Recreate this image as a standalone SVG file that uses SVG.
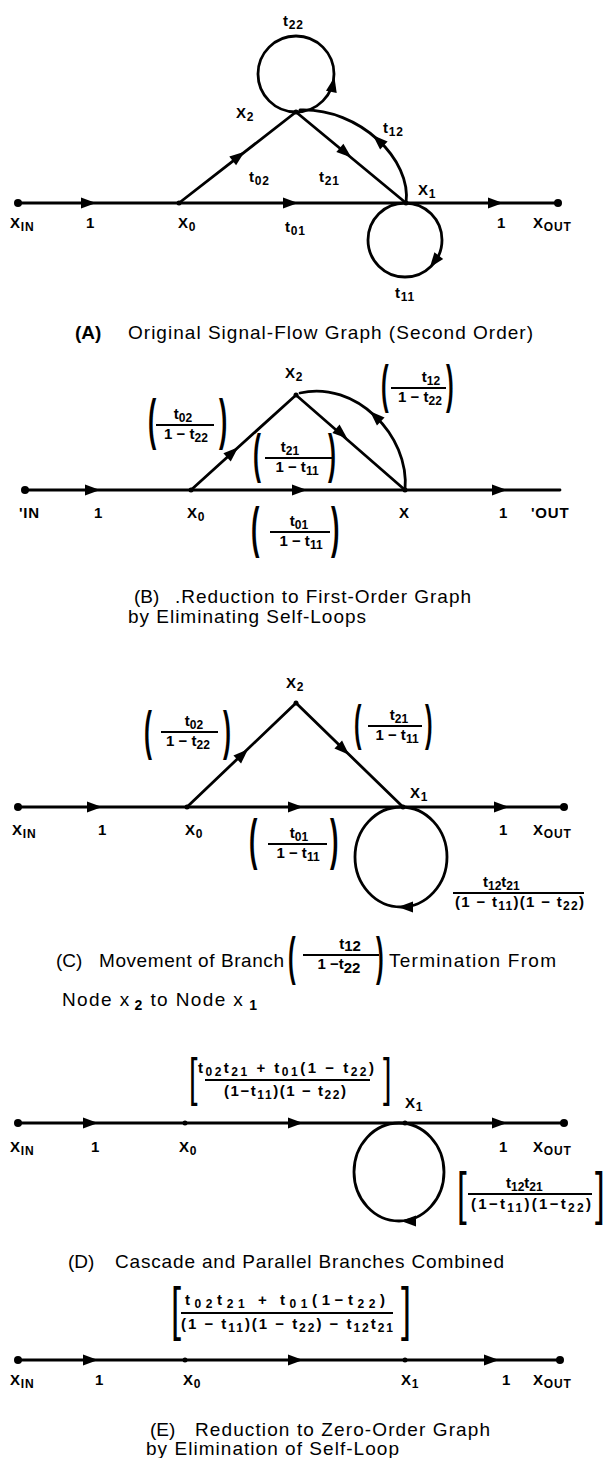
<svg xmlns="http://www.w3.org/2000/svg" width="611" height="1458" viewBox="0 0 611 1458">
<defs>
<style>
.e{fill:none;stroke:#000;stroke-width:2.8;stroke-linecap:round}
.b{stroke:#000;stroke-width:1.8}
.d{fill:#000}
.lb{font-family:"Liberation Sans",Arial,sans-serif;font-weight:bold;font-size:15px;fill:#000;letter-spacing:0.8px}
.s{font-size:12px}
.fr{font-family:"Liberation Sans",Arial,sans-serif;font-weight:bold;font-size:15px;fill:#000}
.fs{font-size:12px}
.cap{font-family:"Liberation Sans",Arial,sans-serif;font-size:19px;fill:#000}
.p{font-family:"Liberation Sans",Arial,sans-serif;fill:#000}
</style>
<path id="ah" d="M-8,-5.5 L7,0 L-8,5.5 Z"/>
</defs>
<rect width="611" height="1458" fill="#fff"/>

<g id="connectors">
<!-- A -->
<path class="e" d="M18,203 H558"/>
<path class="e" d="M179,203 L296,112 L406,203"/>
<path class="e" d="M406,203 C412,160 360,108 300,110"/>
<circle class="e" cx="296" cy="74" r="38"/>
<circle class="e" cx="405" cy="240" r="37"/>
<use href="#ah" transform="translate(89,203)"/>
<use href="#ah" transform="translate(291,203)"/>
<use href="#ah" transform="translate(496,203)"/>
<use href="#ah" transform="translate(239,156) rotate(-38)"/>
<use href="#ah" transform="translate(346,153) rotate(40)"/>
<use href="#ah" transform="translate(378,140) rotate(-137)"/>
<use href="#ah" transform="translate(333,84) rotate(-78)"/>
<use href="#ah" transform="translate(434,262) rotate(127)"/>
<!-- B -->
<path class="e" d="M25,490 H560"/>
<path class="e" d="M191,490 L296,395 L405,490"/>
<path class="e" d="M405,490 C410,435 355,380 300,393"/>
<use href="#ah" transform="translate(93,490)"/>
<use href="#ah" transform="translate(300,490)"/>
<use href="#ah" transform="translate(500,490)"/>
<use href="#ah" transform="translate(233,452) rotate(-42)"/>
<use href="#ah" transform="translate(342,434) rotate(41)"/>
<use href="#ah" transform="translate(375,416) rotate(-136)"/>
<!-- C -->
<path class="e" d="M18,807 H564"/>
<path class="e" d="M187,807 L296,703 L403,807"/>
<ellipse class="e" cx="401" cy="857" rx="46" ry="50"/>
<use href="#ah" transform="translate(95,807)"/>
<use href="#ah" transform="translate(296,807)"/>
<use href="#ah" transform="translate(502,807)"/>
<use href="#ah" transform="translate(243,754) rotate(-44)"/>
<use href="#ah" transform="translate(344,750) rotate(44)"/>
<use href="#ah" transform="translate(405,907) rotate(180)"/>
<!-- D -->
<path class="e" d="M18,1123 H564"/>
<ellipse class="e" cx="399" cy="1172" rx="45" ry="49"/>
<use href="#ah" transform="translate(91,1123)"/>
<use href="#ah" transform="translate(296,1123)"/>
<use href="#ah" transform="translate(500,1123)"/>
<use href="#ah" transform="translate(408,1221) rotate(180)"/>
<!-- E -->
<path class="e" d="M18,1360 H560"/>
<use href="#ah" transform="translate(91,1360)"/>
<use href="#ah" transform="translate(296,1360)"/>
<use href="#ah" transform="translate(492,1360)"/>
</g>

<!-- ===== A ===== -->
<g id="A-xin"><circle class="d" cx="18" cy="203" r="4"/><text class="lb" x="10" y="228">X<tspan class="s" dy="3">IN</tspan></text></g>
<g id="A-x0"><circle class="d" cx="179" cy="203" r="2.5"/><text class="lb" x="178" y="228">X<tspan class="s" dy="3">0</tspan></text></g>
<g id="A-x1"><circle class="d" cx="406" cy="203" r="2.5"/><text class="lb" x="418" y="195">X<tspan class="s" dy="3">1</tspan></text></g>
<g id="A-x2"><circle class="d" cx="296" cy="112" r="2.5"/><text class="lb" x="236" y="118">X<tspan class="s" dy="3">2</tspan></text></g>
<g id="A-xout"><circle class="d" cx="558" cy="203" r="4"/><text class="lb" x="533" y="228">X<tspan class="s" dy="3">OUT</tspan></text></g>
<g id="A-labels">
<text class="lb" x="283" y="26">t<tspan class="s" dy="3">22</tspan></text>
<text class="lb" x="383" y="133">t<tspan class="s" dy="3">12</tspan></text>
<text class="lb" x="249" y="182">t<tspan class="s" dy="3">02</tspan></text>
<text class="lb" x="319" y="182">t<tspan class="s" dy="3">21</tspan></text>
<text class="lb" x="86" y="228">1</text>
<text class="lb" x="285" y="232">t<tspan class="s" dy="3">01</tspan></text>
<text class="lb" x="497" y="228">1</text>
<text class="lb" x="395" y="298">t<tspan class="s" dy="3">11</tspan></text>
</g>
<g id="A-caption">
<text class="cap" x="75" y="339" font-weight="bold">(A)</text>
<text class="cap" x="128" y="339" textLength="405">Original Signal-Flow Graph (Second Order)</text>
</g>

<!-- ===== B ===== -->
<g id="B-xin"><circle class="d" cx="25" cy="490" r="4"/><text class="lb" x="19" y="518">'IN</text></g>
<g id="B-x0"><circle class="d" cx="191" cy="490" r="2.5"/><text class="lb" x="187" y="518">X<tspan class="s" dy="3">0</tspan></text></g>
<g id="B-x"><circle class="d" cx="405" cy="490" r="2.5"/><text class="lb" x="399" y="518">X</text></g>
<g id="B-x2"><circle class="d" cx="296" cy="395" r="2.5"/><text class="lb" x="285" y="378">X<tspan class="s" dy="3">2</tspan></text></g>
<g id="B-xout"><text class="lb" x="531" y="518">'OUT</text></g>
<g id="B-labels">
<text class="lb" x="94" y="518">1</text>
<text class="lb" x="499" y="518">1</text>
<text class="p" font-weight="bold" font-size="51" transform="translate(381,402) scale(0.45,1)">(</text>
<text class="p" font-weight="bold" font-size="51" transform="translate(446,402) scale(0.45,1)">)</text>
<text class="fr" x="431" y="382" text-anchor="middle">t<tspan class="fs" dy="3">12</tspan></text>
<line class="b" x1="391" y1="388" x2="446" y2="388"/>
<text class="fr" x="420" y="402" text-anchor="middle">1 − t<tspan class="fs" dy="3">22</tspan></text>
<text class="p" font-weight="bold" font-size="55" transform="translate(148,438) scale(0.45,1)">(</text>
<text class="p" font-weight="bold" font-size="55" transform="translate(219,438) scale(0.45,1)">)</text>
<text class="fr" x="183" y="419" text-anchor="middle">t<tspan class="fs" dy="3">02</tspan></text>
<line class="b" x1="156" y1="425" x2="214" y2="425"/>
<text class="fr" x="186" y="439" text-anchor="middle">1 − t<tspan class="fs" dy="3">22</tspan></text>
<text class="p" font-weight="bold" font-size="53" transform="translate(253,472) scale(0.45,1)">(</text>
<text class="p" font-weight="bold" font-size="53" transform="translate(328,472) scale(0.45,1)">)</text>
<text class="fr" x="290" y="452" text-anchor="middle">t<tspan class="fs" dy="3">21</tspan></text>
<line class="b" x1="265" y1="458" x2="333" y2="458"/>
<text class="fr" x="297" y="472" text-anchor="middle">1 − t<tspan class="fs" dy="3">11</tspan></text>
<text class="p" font-weight="bold" font-size="56" transform="translate(251,546) scale(0.45,1)">(</text>
<text class="p" font-weight="bold" font-size="56" transform="translate(331,546) scale(0.45,1)">)</text>
<text class="fr" x="299" y="526" text-anchor="middle">t<tspan class="fs" dy="3">01</tspan></text>
<line class="b" x1="270" y1="532" x2="330" y2="532"/>
<text class="fr" x="301" y="546" text-anchor="middle">1 − t<tspan class="fs" dy="3">11</tspan></text>
</g>
<g id="B-caption">
<text class="cap" x="134" y="603">(B)</text>
<text class="cap" x="175" y="603" textLength="296">.Reduction to First-Order Graph</text>
<text class="cap" x="128" y="623" textLength="238">by Eliminating Self-Loops</text>
</g>

<!-- ===== C ===== -->
<g id="C-xin"><circle class="d" cx="18" cy="807" r="4"/><text class="lb" x="12" y="835">X<tspan class="s" dy="3">IN</tspan></text></g>
<g id="C-x0"><circle class="d" cx="187" cy="807" r="2.5"/><text class="lb" x="185" y="835">X<tspan class="s" dy="3">0</tspan></text></g>
<g id="C-x1"><circle class="d" cx="403" cy="807" r="2.5"/><text class="lb" x="410" y="798">X<tspan class="s" dy="3">1</tspan></text></g>
<g id="C-x2"><circle class="d" cx="296" cy="703" r="2.5"/><text class="lb" x="286" y="688">X<tspan class="s" dy="3">2</tspan></text></g>
<g id="C-xout"><circle class="d" cx="564" cy="807" r="4"/><text class="lb" x="533" y="835">X<tspan class="s" dy="3">OUT</tspan></text></g>
<g id="C-labels">
<text class="lb" x="98" y="835">1</text>
<text class="lb" x="499" y="835">1</text>
<text class="p" font-weight="bold" font-size="53" transform="translate(144,749) scale(0.45,1)">(</text>
<text class="p" font-weight="bold" font-size="53" transform="translate(223,749) scale(0.45,1)">)</text>
<text class="fr" x="194" y="726" text-anchor="middle">t<tspan class="fs" dy="3">02</tspan></text>
<line class="b" x1="161" y1="732" x2="218" y2="732"/>
<text class="fr" x="188" y="746" text-anchor="middle">1 − t<tspan class="fs" dy="3">22</tspan></text>
<text class="p" font-weight="bold" font-size="50" transform="translate(354,740) scale(0.45,1)">(</text>
<text class="p" font-weight="bold" font-size="50" transform="translate(425,740) scale(0.45,1)">)</text>
<text class="fr" x="399" y="720" text-anchor="middle">t<tspan class="fs" dy="3">21</tspan></text>
<line class="b" x1="368" y1="726" x2="422" y2="726"/>
<text class="fr" x="397" y="740" text-anchor="middle">1 − t<tspan class="fs" dy="3">11</tspan></text>
<text class="p" font-weight="bold" font-size="56" transform="translate(249,858) scale(0.45,1)">(</text>
<text class="p" font-weight="bold" font-size="56" transform="translate(330,858) scale(0.45,1)">)</text>
<text class="fr" x="299" y="838" text-anchor="middle">t<tspan class="fs" dy="3">01</tspan></text>
<line class="b" x1="268" y1="844" x2="327" y2="844"/>
<text class="fr" x="298" y="858" text-anchor="middle">1 − t<tspan class="fs" dy="3">11</tspan></text>
<text class="fr" x="483" y="887">t<tspan class="fs" dy="3">12</tspan><tspan dy="-3">t</tspan><tspan class="fs" dy="3">21</tspan></text>
<line class="b" x1="453" y1="893" x2="584" y2="893"/>
<text class="fr" x="455" y="907" textLength="129">(1 − t<tspan class="fs" dy="3">11</tspan><tspan dy="-3">)(1 − t</tspan><tspan class="fs" dy="3">22</tspan><tspan dy="-3">)</tspan></text>
</g>
<g id="C-caption">
<text class="cap" x="56" y="967">(C)</text>
<text class="cap" x="99" y="967" textLength="185">Movement of Branch</text>
<text class="p" font-weight="bold" font-size="51" transform="translate(288,974) scale(0.45,1)">(</text>
<text class="p" font-weight="bold" font-size="51" transform="translate(376,974) scale(0.45,1)">)</text>
<text class="fr" x="350" y="949" text-anchor="middle">t<tspan dy="2">12</tspan></text>
<line class="b" x1="303" y1="955" x2="379" y2="955"/>
<text class="fr" x="339" y="969" text-anchor="middle">1 −t<tspan dy="4">22</tspan></text>
<text class="cap" x="389" y="967" textLength="167">Termination From</text>
<text class="cap" x="62" y="1006" textLength="195">Node x<tspan dx="4" dy="4" font-size="14" font-weight="bold">2</tspan><tspan dy="-4"> to Node x</tspan><tspan dx="5" dy="4" font-size="14" font-weight="bold">1</tspan></text>
</g>

<!-- ===== D ===== -->
<g id="D-xin"><circle class="d" cx="18" cy="1123" r="4"/><text class="lb" x="10" y="1152">X<tspan class="s" dy="3">IN</tspan></text></g>
<g id="D-x0"><circle class="d" cx="185" cy="1123" r="2.5"/><text class="lb" x="179" y="1152">X<tspan class="s" dy="3">0</tspan></text></g>
<g id="D-x1"><circle class="d" cx="405" cy="1123" r="2.5"/><text class="lb" x="405" y="1108">X<tspan class="s" dy="3">1</tspan></text></g>
<g id="D-xout"><circle class="d" cx="564" cy="1123" r="4"/><text class="lb" x="533" y="1152">X<tspan class="s" dy="3">OUT</tspan></text></g>
<g id="D-labels">
<text class="lb" x="91" y="1152">1</text>
<text class="lb" x="499" y="1152">1</text>
<text class="p" font-size="51" transform="translate(189,1095) scale(0.6,1)">[</text>
<text class="p" font-size="51" transform="translate(383,1095) scale(0.6,1)">]</text>
<text class="fr" x="198" y="1073" textLength="176">t<tspan class="fs" dy="3">02</tspan><tspan dy="-3">t</tspan><tspan class="fs" dy="3">21</tspan><tspan dy="-3"> + t</tspan><tspan class="fs" dy="3">01</tspan><tspan dy="-3">(1 − t</tspan><tspan class="fs" dy="3">22</tspan><tspan dy="-3">)</tspan></text>
<line class="b" x1="205" y1="1080" x2="370" y2="1080"/>
<text class="fr" x="224" y="1096" textLength="122">(1−t<tspan class="fs" dy="3">11</tspan><tspan dy="-3">)(1 − t</tspan><tspan class="fs" dy="3">22</tspan><tspan dy="-3">)</tspan></text>
<text class="p" font-size="58" transform="translate(457,1213) scale(0.6,1)">[</text>
<text class="p" font-size="58" transform="translate(595,1213) scale(0.6,1)">]</text>
<text class="fr" x="506" y="1188">t<tspan class="fs" dy="3">12</tspan><tspan dy="-3">t</tspan><tspan class="fs" dy="3">21</tspan></text>
<line class="b" x1="468" y1="1194" x2="592" y2="1194"/>
<text class="fr" x="471" y="1209" textLength="120">(1−t<tspan class="fs" dy="3">11</tspan><tspan dy="-3">)(1−t</tspan><tspan class="fs" dy="3">22</tspan><tspan dy="-3">)</tspan></text>
</g>
<g id="D-caption">
<text class="cap" x="68" y="1268">(D)</text>
<text class="cap" x="115" y="1268" textLength="389">Cascade and Parallel Branches Combined</text>
</g>

<!-- ===== E ===== -->
<g id="E-xin"><circle class="d" cx="18" cy="1360" r="4"/><text class="lb" x="10" y="1385">X<tspan class="s" dy="3">IN</tspan></text></g>
<g id="E-x0"><circle class="d" cx="185" cy="1360" r="2.5"/><text class="lb" x="183" y="1385">X<tspan class="s" dy="3">0</tspan></text></g>
<g id="E-x1"><circle class="d" cx="405" cy="1360" r="2.5"/><text class="lb" x="401" y="1385">X<tspan class="s" dy="3">1</tspan></text></g>
<g id="E-xout"><circle class="d" cx="560" cy="1360" r="4"/><text class="lb" x="533" y="1385">X<tspan class="s" dy="3">OUT</tspan></text></g>
<g id="E-labels">
<text class="lb" x="95" y="1385">1</text>
<text class="lb" x="502" y="1385">1</text>
<text class="p" font-size="60" transform="translate(171,1329) scale(0.6,1)">[</text>
<text class="p" font-size="60" transform="translate(401,1329) scale(0.6,1)">]</text>
<text class="fr" x="185" y="1305" textLength="200">t<tspan class="fs" dy="3">02</tspan><tspan dy="-3">t</tspan><tspan class="fs" dy="3">21</tspan><tspan dy="-3"> + t</tspan><tspan class="fs" dy="3">01</tspan><tspan dy="-3">(1−t</tspan><tspan class="fs" dy="3">22</tspan><tspan dy="-3">)</tspan></text>
<line class="b" x1="181" y1="1313" x2="393" y2="1313"/>
<text class="fr" x="181" y="1329" textLength="212">(1 − t<tspan class="fs" dy="3">11</tspan><tspan dy="-3">)(1 − t</tspan><tspan class="fs" dy="3">22</tspan><tspan dy="-3">) − t</tspan><tspan class="fs" dy="3">12</tspan><tspan dy="-3">t</tspan><tspan class="fs" dy="3">21</tspan></text>
</g>
<g id="E-caption">
<text class="cap" x="150" y="1436">(E)</text>
<text class="cap" x="195" y="1436" textLength="295">Reduction to Zero-Order Graph</text>
<text class="cap" x="146" y="1455" textLength="253">by Elimination of Self-Loop</text>
</g>
</svg>
